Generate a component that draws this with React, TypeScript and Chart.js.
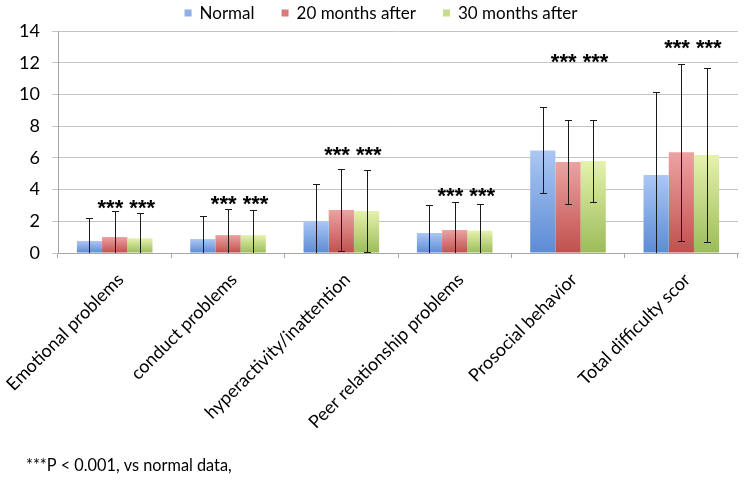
import React, { useEffect, useRef } from "react";
import { Chart, registerables } from "chart.js";

Chart.register(...registerables);

const categories = [
  "Emotional problems",
  "conduct problems",
  "hyperactivity/inattention",
  "Peer relationship problems",
  "Prosocial behavior",
  "Total difficulty scor",
];
const seriesNames = ["Normal", "20 months after", "30 months after"];
const normal = [0.76, 0.88, 2.02, 1.26, 6.47, 4.92];
const after20 = [1.01, 1.13, 2.71, 1.45, 5.74, 6.35];
const after30 = [0.93, 1.13, 2.65, 1.41, 5.8, 6.18];
const normalErr = [1.43, 1.47, 2.33, 1.77, 2.71, 5.25];
const after20Err = [1.62, 1.62, 2.57, 1.74, 2.62, 5.58];
const after30Err = [1.61, 1.56, 2.56, 1.68, 2.6, 5.5];
const starLevels = [3.09, 3.34, 6.43, 3.85, 12.28, 13.2];
const starText = "*** ***";
const footnote = "***P < 0.001, vs normal data,";
const yMin = 0;
const yMax = 14;
const yStep = 2;

const gradTop = ["#abc7f4", "#eba3a2", "#e5f2ad"];
const gradBottom = ["#5c8bd5", "#c0504d", "#9bbb59"];
const legendColors = ["#8db0e8", "#d97a78", "#c6dd8a"];

const FONT = "Lato, 'Open Sans', sans-serif";

function gradientFill(i: number) {
  return (ctx: any) => {
    const chart = ctx.chart;
    const area = chart.chartArea;
    if (!area || ctx.type !== "data") return legendColors[i];
    const y = chart.scales.y;
    const v = ctx.raw as number;
    const top = y.getPixelForValue(v);
    const bottom = y.getPixelForValue(0);
    if (!isFinite(top) || !isFinite(bottom) || top === bottom) return legendColors[i];
    const g = chart.ctx.createLinearGradient(0, top, 0, bottom);
    g.addColorStop(0, gradTop[i]);
    g.addColorStop(1, gradBottom[i]);
    return g;
  };
}

export default function App() {
  const ref = useRef<HTMLCanvasElement | null>(null);

  useEffect(() => {
    if (!ref.current) return;
    const values = [normal, after20, after30];
    const errs = [normalErr, after20Err, after30Err];

    const overlay = {
      id: "overlay",
      afterDatasetsDraw(chart: any) {
        const { ctx, chartArea, scales } = chart;
        const ys = scales.y;
        // error bars
        ctx.save();
        ctx.beginPath();
        ctx.rect(chartArea.left, chartArea.top - 1, chartArea.right - chartArea.left, chartArea.bottom - chartArea.top + 1);
        ctx.clip();
        ctx.strokeStyle = "#1a1a1a";
        ctx.lineWidth = 1;
        values.forEach((vals, i) => {
          const meta = chart.getDatasetMeta(i);
          meta.data.forEach((bar: any, j: number) => {
            const x = Math.round(bar.x) + 0.5;
            const hi = vals[j] + errs[i][j];
            const lo = vals[j] - errs[i][j];
            const yHi = Math.round(ys.getPixelForValue(hi)) + 0.5;
            const yLo = Math.round(ys.getPixelForValue(Math.max(lo, yMin))) + 0.5;
            ctx.beginPath();
            ctx.moveTo(x, yHi);
            ctx.lineTo(x, yLo);
            ctx.moveTo(x - 3.5, yHi);
            ctx.lineTo(x + 3.5, yHi);
            if (lo >= yMin) {
              ctx.moveTo(x - 3.5, yLo);
              ctx.lineTo(x + 3.5, yLo);
            }
            ctx.stroke();
          });
        });
        ctx.restore();

        // significance stars
        ctx.save();
        ctx.fillStyle = "#000";
        ctx.font = "bold 22px 'Liberation Sans', Arial, sans-serif";
        ctx.textAlign = "center";
        ctx.textBaseline = "alphabetic";
        const m1 = chart.getDatasetMeta(1);
        const m2 = chart.getDatasetMeta(2);
        starLevels.forEach((lvl, j) => {
          const cx = (m1.data[j].x + m2.data[j].x) / 2 - 1;
          const cy = ys.getPixelForValue(lvl);
          ctx.fillText(starText, cx, cy + 11);
        });
        ctx.restore();
      },
      afterDraw(chart: any) {
        const { ctx } = chart;
        ctx.save();
        // legend
        ctx.font = `17px ${FONT}`;
        ctx.textBaseline = "middle";
        ctx.textAlign = "left";
        const box = 7;
        const gap = 8;
        const itemGap = 27;
        const widths = seriesNames.map((n) => box + gap + ctx.measureText(n).width);
        const total = widths.reduce((a, b) => a + b, 0) + itemGap * (seriesNames.length - 1);
        let x = 381 - total / 2;
        const ly = 13;
        seriesNames.forEach((n, i) => {
          ctx.fillStyle = legendColors[i];
          ctx.fillRect(x, ly - 3.5, box, box);
          ctx.fillStyle = "#000";
          ctx.fillText(n, x + box + gap, ly + 1);
          x += widths[i] + itemGap;
        });
        // footnote
        ctx.font = `16.3px ${FONT}`;
        ctx.fillText(footnote, 26, 466);
        ctx.restore();
      },
    };

    const chart = new Chart(ref.current, {
      type: "bar",
      data: {
        labels: categories,
        datasets: values.map((vals, i) => ({
          label: seriesNames[i],
          data: vals,
          backgroundColor: gradientFill(i),
          borderWidth: 0,
          categoryPercentage: 0.667,
          barPercentage: 1.0,
        })),
      },
      options: {
        responsive: false,
        animation: false,
        devicePixelRatio: 1,
        layout: { padding: { top: 31, right: 6, left: 0, bottom: 0 } },
        plugins: {
          legend: { display: false },
          tooltip: { enabled: false },
        },
        scales: {
          x: {
            type: "category",
            offset: true,
            grid: {
              offset: true,
              drawOnChartArea: false,
              drawTicks: true,
              tickLength: 5,
              color: "#a6a6a6",
            },
            border: { color: "#a6a6a6" },
            ticks: {
              autoSkip: false,
              maxRotation: 45,
              minRotation: 45,
              color: "#000",
              padding: 11,
              labelOffset: 6,
              font: { family: FONT, size: 18 },
            },
            afterFit: (s: any) => {
              s.height = 229;
              s.paddingLeft = 0;
              s.paddingRight = 0;
            },
          },
          y: {
            min: yMin,
            max: yMax,
            ticks: {
              stepSize: yStep,
              color: "#000",
              padding: 12,
              font: { family: FONT, size: 18 },
            },
            grid: { color: "#c4c4c4", tickLength: 6 },
            border: { color: "#a6a6a6" },
            afterFit: (s: any) => {
              s.width = 58;
              s.paddingTop = 0;
              s.paddingBottom = 0;
            },
          },
        },
      },
      plugins: [overlay],
    } as any);
    return () => chart.destroy();
  }, []);

  return (
    <div style={{ position: "absolute", left: 0, top: 0, width: 744, height: 482, background: "#fff" }}>
      <canvas ref={ref} width={744} height={482} style={{ display: "block", width: 744, height: 482 }} />
    </div>
  );
}
